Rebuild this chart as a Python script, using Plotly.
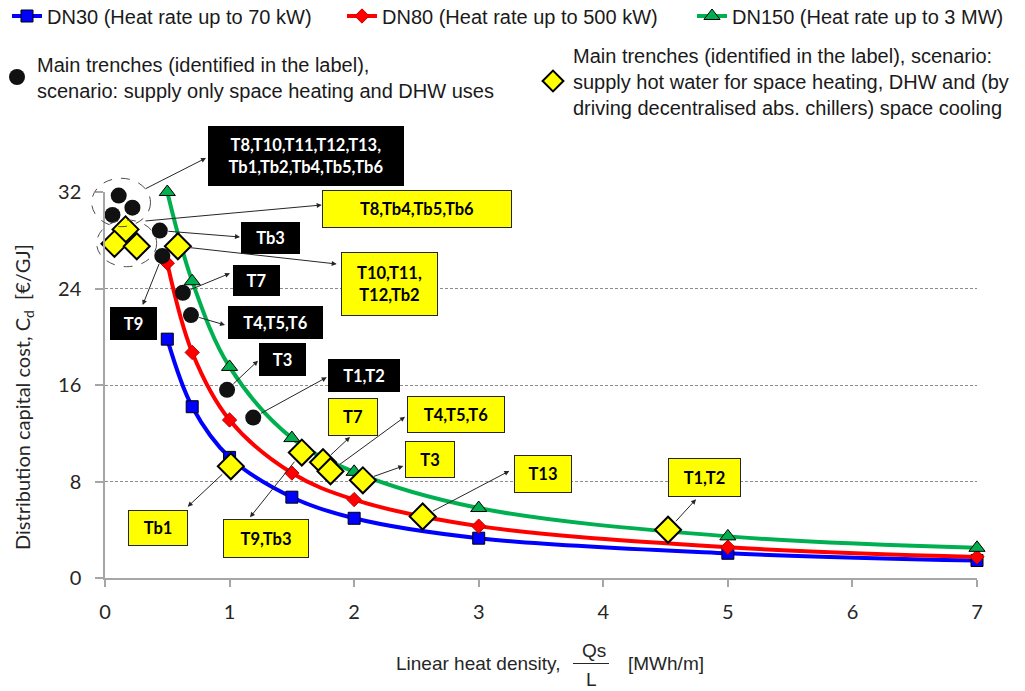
import plotly.graph_objects as go

# ---------------- data ----------------
x_dn = [0.5, 0.7, 1, 1.5, 2, 3, 5, 7]
dn30 = [19.8, 14.2, 10.0, 6.7, 4.95, 3.3, 2.05, 1.45]
dn80 = [26.1, 18.7, 13.1, 8.7, 6.5, 4.3, 2.55, 1.75]
dn150 = [32.0, 24.6, 17.5, 11.6, 8.8, 5.8, 3.45, 2.5]

# scenario 1: space heating + DHW (black circles)
s1_x = [0.11, 0.22, 0.06, 0.44, 0.46, 0.625, 0.69, 0.98, 1.19]
s1_y = [31.7, 30.7, 30.1, 28.8, 26.7, 23.65, 21.8, 15.6, 13.3]
# scenario 2: heating + DHW + cooling (yellow diamonds)
s2_x = [0.165, 0.076, 0.255, 0.585, 1.01, 1.58, 1.75, 1.81, 2.07, 2.55, 4.52]
s2_y = [28.9, 27.7, 27.5, 27.5, 9.26, 10.4, 9.6, 8.85, 8.1, 5.1, 4.0]

x_ticks = [0, 1, 2, 3, 4, 5, 6, 7]
y_ticks = [0, 8, 16, 24, 32]

names = [
    "DN30 (Heat rate up to 70 kW)",
    "DN80 (Heat rate up to 500 kW)",
    "DN150 (Heat rate up to 3 MW)",
    "Main trenches (identified in the label),<br>scenario: supply only space heating and DHW uses",
    "Main trenches (identified in the label), scenario:<br>supply hot water for space heating, DHW and (by<br>driving decentralised abs. chillers) space cooling",
]

# ---------------- layout geometry ----------------
W, H = 1025, 691
ML, MR, MT, MB = 105, 48, 192, 113
PW, PH = W - ML - MR, H - MT - MB
XMAX, YMAX = 7, 32


def PX(px):
    return (px - ML) / PW


def PY(py):
    return (H - MB - py) / PH


def dx(v):
    return ML + v * PW / XMAX


def dy(v):
    return H - MB - v * PH / YMAX


LEG_FONT = dict(family="Liberation Sans, Arial, sans-serif", size=20, color="#1a1a1a")
AX_FONT = dict(family="Lato, Carlito, sans-serif", size=20, color="#262626")

fig = go.Figure()
fig.add_trace(go.Scatter(x=x_dn, y=dn30, mode="lines+markers", name=names[0],
                         line=dict(color="#0000FF", width=4, shape="spline", smoothing=1),
                         marker=dict(symbol="square", size=12, color="#0000FF",
                                     line=dict(color="#000000", width=1)),
                         cliponaxis=False, legend="legend"))
fig.add_trace(go.Scatter(x=x_dn, y=dn80, mode="lines+markers", name=names[1],
                         line=dict(color="#FF0000", width=4, shape="spline", smoothing=1),
                         marker=dict(symbol="diamond", size=11, color="#FF0000",
                                     line=dict(color="#C00000", width=1)),
                         cliponaxis=False, legend="legend2"))
fig.add_trace(go.Scatter(x=x_dn, y=dn150, mode="lines+markers", name=names[2],
                         line=dict(color="#00B050", width=4, shape="spline", smoothing=1),
                         marker=dict(symbol="triangle-up", size=14, color="#00B050",
                                     line=dict(color="#000000", width=1)),
                         cliponaxis=False, legend="legend3"))
fig.add_trace(go.Scatter(x=s1_x, y=s1_y, mode="markers", name=names[3],
                         marker=dict(symbol="circle", size=16, color="#111111"),
                         cliponaxis=False, legend="legend4"))
fig.add_trace(go.Scatter(x=s2_x, y=s2_y, mode="markers", name=names[4],
                         marker=dict(symbol="diamond", size=20, color="#FFFF00",
                                     line=dict(color="#000000", width=2)),
                         cliponaxis=False, legend="legend5"))

# ---------------- label boxes ----------------
BLACK, YELLOW = "black", "yellow"
boxes = [
    # text, centre x px, centre y px, w, h, style
    ("T8,T10,T11,T12,T13,<br>Tb1,Tb2,Tb4,Tb5,Tb6", 306, 156, 196, 60, BLACK),
    ("Tb3", 270.5, 237.5, 59, 32, BLACK),
    ("T7", 256, 280.5, 47, 31, BLACK),
    ("T4,T5,T6", 275, 322.5, 95, 33, BLACK),
    ("T3", 282, 359.7, 47, 33, BLACK),
    ("T1,T2", 364, 375, 72, 33, BLACK),
    ("T9", 133, 323.7, 47, 33, BLACK),
    ("T8,Tb4,Tb5,Tb6", 417, 209, 190, 38, YELLOW),
    ("T10,T11,<br>T12,Tb2", 389.5, 284, 97, 64, YELLOW),
    ("T7", 353.3, 417, 50, 38, YELLOW),
    ("T4,T5,T6", 456, 414.5, 98, 37, YELLOW),
    ("T3", 430, 459, 50, 37, YELLOW),
    ("T13", 542.5, 474, 58, 38, YELLOW),
    ("T1,T2", 704, 477, 73, 39, YELLOW),
    ("Tb1", 157.5, 528, 60, 36, YELLOW),
    ("T9,Tb3", 266.3, 538.8, 86, 39, YELLOW),
]

annotations = []
for txt, cx, cy, w, h, style in boxes:
    annotations.append(dict(
        x=PX(cx), y=PY(cy), xref="paper", yref="paper", text=txt, showarrow=False,
        xanchor="center", yanchor="middle", align="center", valign="middle",
        width=w - 2, height=h - 2, borderpad=0, borderwidth=1,
        bgcolor="#000000" if style == BLACK else "#FFFF00",
        bordercolor="#000000" if style == BLACK else "#262626",
        font=dict(family="Lato, Carlito, sans-serif", size=16.5, weight="bold",
                  color="#FFFFFF" if style == BLACK else "#000000"),
    ))

# ---------------- arrows (tail -> head at box) ----------------
# tail given either as a marker of a scenario series, or as a point on a dashed circle
arrows = [
    (("px", 145, 189), 206, 158, 0),
    (("s1", 3), 240, 237, 8),
    (("s1", 5), 230, 273.3, 8),
    (("s1", 6), 225, 325, 8),
    (("s1", 7), 258, 360.7, 8),
    (("s1", 8), 326.7, 377.3, 8),
    (("s1", 4), 142.7, 305, 8),
    (("px", 145, 221), 321.7, 205, 0),
    (("s2", 3), 336.7, 264, 11),
    (("s2", 6), 350, 437, 10),
    (("s2", 7), 405, 416.7, 11),
    (("s2", 8), 403.3, 466, 11),
    (("s2", 9), 509.3, 471, 11),
    (("s2", 10), 696, 499.3, 11),
    (("s2", 4), 187.7, 506.7, 11),
    (("s2", 5), 250, 517.3, 11),
]
for tail, hx, hy, so in arrows:
    if tail[0] == "px":
        tx, ty = tail[1], tail[2]
    elif tail[0] == "s1":
        tx, ty = dx(s1_x[tail[1]]), dy(s1_y[tail[1]])
    else:
        tx, ty = dx(s2_x[tail[1]]), dy(s2_y[tail[1]])
    annotations.append(dict(
        x=PX(hx), y=PY(hy), xref="paper", yref="paper", text="", showarrow=True,
        ax=tx - hx, ay=ty - hy, axref="pixel", ayref="pixel",
        arrowhead=2, arrowsize=1, arrowwidth=1, arrowcolor="#262626",
        startstandoff=so, borderpad=0,
    ))

# ---------------- axis titles ----------------
annotations.append(dict(
    x=PX(23), y=PY(397), xref="paper", yref="paper", showarrow=False, textangle=-90,
    text="Distribution capital cost, C<sub>d</sub>  [€/GJ]", xanchor="center", yanchor="middle",
    font=dict(family="Lato, Carlito, sans-serif", size=20, color="#262626"),
))
XT_FONT = dict(family="Liberation Sans, Arial, sans-serif", size=19, color="#262626")
annotations.append(dict(x=PX(562), y=PY(663), xref="paper", yref="paper", showarrow=False,
                        text="Linear heat density,", xanchor="right", yanchor="middle", font=XT_FONT))
annotations.append(dict(x=PX(594), y=PY(650), xref="paper", yref="paper", showarrow=False,
                        text="Qs", xanchor="center", yanchor="middle", font=XT_FONT))
annotations.append(dict(x=PX(591), y=PY(679), xref="paper", yref="paper", showarrow=False,
                        text="L", xanchor="center", yanchor="middle", font=XT_FONT))
annotations.append(dict(x=PX(626), y=PY(663), xref="paper", yref="paper", showarrow=False,
                        text="[MWh/m]", xanchor="left", yanchor="middle", font=XT_FONT))

shapes = [
    dict(type="circle", xref="paper", yref="paper", x0=PX(91.7), x1=PX(150.5),
         y0=PY(226.7), y1=PY(178.3), line=dict(color="#4d4d4d", width=1, dash="dash")),
    dict(type="circle", xref="paper", yref="paper", x0=PX(96.7), x1=PX(156.7),
         y0=PY(266.7), y1=PY(220), line=dict(color="#4d4d4d", width=1, dash="dash")),
    dict(type="line", xref="paper", yref="paper", x0=PX(573), x1=PX(609),
         y0=PY(663.5), y1=PY(663.5), line=dict(color="#262626", width=1)),
]


def leg(xpx, ypx):
    return dict(x=PX(xpx), y=PY(ypx), xanchor="left", yanchor="middle", orientation="v",
                font=LEG_FONT, bgcolor="rgba(0,0,0,0)", borderwidth=0, itemsizing="trace",
                valign="middle")


fig.update_layout(
    width=W, height=H,
    margin=dict(l=ML, r=MR, t=MT, b=MB, autoexpand=False),
    paper_bgcolor="white", plot_bgcolor="white",
    showlegend=True,
    legend=leg(7, 16), legend2=leg(342, 16), legend3=leg(692, 16),
    legend4=leg(-3, 77), legend5=leg(533, 81),
    xaxis=dict(range=[0, XMAX], tickvals=x_ticks, showgrid=False, zeroline=False,
               showline=True, linecolor="#A6A6A6", linewidth=1.5, ticks="outside",
               ticklen=7, tickcolor="#A6A6A6", tickwidth=1.5, tickfont=AX_FONT,
               ticklabelstandoff=8),
    yaxis=dict(range=[0, YMAX], tickvals=y_ticks, showgrid=True, gridcolor="#8C8C8C",
               griddash="3px,2px", gridwidth=1, zeroline=False,
               showline=True, linecolor="#A6A6A6", linewidth=1.5, ticks="outside",
               ticklen=8, tickcolor="#A6A6A6", tickwidth=1.5, tickfont=AX_FONT,
               ticklabelstandoff=10),
    annotations=annotations,
    shapes=shapes,
)

fig.write_html("out.html", config={"displayModeBar": False},
               post_script="document.body.style.margin='0';")
